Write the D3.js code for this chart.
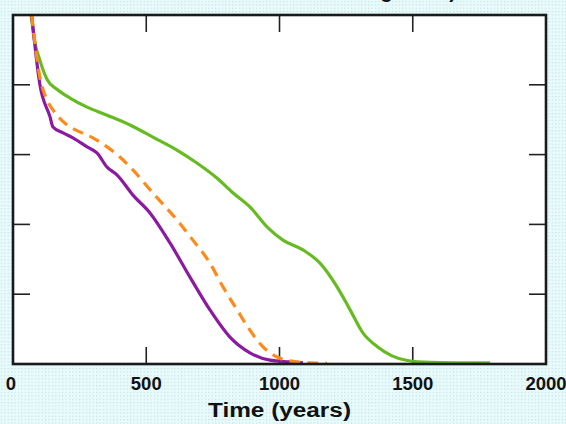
<!DOCTYPE html>
<html>
<head>
<meta charset="utf-8">
<script src="https://cdn.jsdelivr.net/npm/d3@7"></script>
<style>
  html, body { margin: 0; padding: 0; overflow: hidden; }
  svg { display: block; }
  text { font-family: "Liberation Sans", Arial, sans-serif; font-weight: bold; fill: #111; }
</style>
</head>
<body>
<svg width="566" height="424"></svg>
<script>
// Data: time (years) and fraction remaining
const purpleT = [70, 101, 139, 150, 188, 225, 278, 315, 353, 390, 450, 514, 589, 664, 739, 814, 889, 964, 1039, 1088];
const purpleV = [1.0, 0.80, 0.708, 0.679, 0.662, 0.648, 0.622, 0.605, 0.564, 0.542, 0.484, 0.433, 0.347, 0.249, 0.155, 0.077, 0.032, 0.011, 0.006, 0.003];

const orangeT = [70, 101, 128, 150, 203, 251, 300, 353, 401, 450, 525, 615, 675, 739, 788, 841, 889, 938, 991, 1066, 1114, 1178];
const orangeV = [1.0, 0.822, 0.756, 0.728, 0.685, 0.665, 0.648, 0.622, 0.593, 0.556, 0.490, 0.413, 0.355, 0.289, 0.221, 0.155, 0.097, 0.049, 0.020, 0.006, 0.003, 0.002];

const greenT = [68, 80, 101, 128, 165, 214, 278, 353, 439, 525, 615, 690, 765, 826, 889, 953, 1013, 1088, 1152, 1216, 1265, 1313, 1366, 1420, 1480, 1565, 1790];
const greenV = [1.0, 0.93, 0.870, 0.815, 0.787, 0.762, 0.736, 0.713, 0.685, 0.650, 0.613, 0.576, 0.533, 0.490, 0.450, 0.393, 0.355, 0.327, 0.289, 0.221, 0.155, 0.089, 0.050, 0.024, 0.010, 0.005, 0.003];

const xTicks = [0, 500, 1000, 1500, 2000];
const yTicks = [0.2, 0.4, 0.6, 0.8];

const svg = d3.select("svg");
const width = 566, height = 424;
const margin = { top: 15, right: 20, bottom: 60, left: 13 };
const innerWidth = width - margin.left - margin.right;
const innerHeight = height - margin.top - margin.bottom;

// dotted light cyan backdrop
const defs = svg.append("defs");
const pat = defs.append("pattern")
    .attr("id", "dots")
    .attr("width", 3.4).attr("height", 3.4)
    .attr("patternUnits", "userSpaceOnUse");
pat.append("rect").attr("width", 3.4).attr("height", 3.4).attr("fill", "#e6fcfc");
pat.append("rect").attr("x", 1).attr("y", 1).attr("width", 1).attr("height", 1).attr("fill", "#c9c9d6");
svg.append("rect").attr("width", width).attr("height", height).attr("fill", "url(#dots)");

// cut-off title at the very top (only descenders show)
svg.append("text")
    .attr("x", 456).attr("y", -2)
    .attr("text-anchor", "end")
    .attr("font-size", 20)
    .text("Normalized ice volume remaining mass)");

defs.append("clipPath").attr("id", "plotclip")
    .append("rect").attr("width", innerWidth).attr("height", innerHeight);

const g = svg.append("g")
    .attr("transform", `translate(${margin.left}, ${margin.top})`);

g.append("rect")
    .attr("width", innerWidth)
    .attr("height", innerHeight)
    .attr("fill", "#fff");

const xScale = d3.scaleLinear().domain([0, 2000]).range([0, innerWidth]);
const yScale = d3.scaleLinear().domain([0, 1]).range([innerHeight, 0]);

// inward ticks on all four sides
const tickLen = 17;
const ticks = g.append("g").attr("stroke", "#222").attr("stroke-width", 1.6);
xTicks.slice(1, -1).forEach(t => {
    ticks.append("line").attr("x1", xScale(t)).attr("x2", xScale(t)).attr("y1", innerHeight).attr("y2", innerHeight - tickLen);
    ticks.append("line").attr("x1", xScale(t)).attr("x2", xScale(t)).attr("y1", 0).attr("y2", tickLen);
});
yTicks.forEach(v => {
    ticks.append("line").attr("x1", 0).attr("x2", tickLen).attr("y1", yScale(v)).attr("y2", yScale(v));
    ticks.append("line").attr("x1", innerWidth).attr("x2", innerWidth - tickLen).attr("y1", yScale(v)).attr("y2", yScale(v));
});

const line = d3.line()
    .x(d => xScale(d[0]))
    .y(d => yScale(d[1]))
    .curve(d3.curveMonotoneX);

const series = [
    { t: greenT, v: greenV, color: "#66bb22", dash: null },
    { t: purpleT, v: purpleV, color: "#8c1aa0", dash: null },
    { t: orangeT, v: orangeV, color: "#ff8a1c", dash: "11,7" }
];

const lines = g.append("g").attr("clip-path", "url(#plotclip)");
series.forEach(s => {
    lines.append("path")
        .datum(d3.zip(s.t, s.v))
        .attr("fill", "none")
        .attr("stroke", s.color)
        .attr("stroke-width", 3.2)
        .attr("stroke-dasharray", s.dash)
        .attr("stroke-linejoin", "round")
        .attr("d", line);
});

// frame
g.append("rect")
    .attr("width", innerWidth)
    .attr("height", innerHeight)
    .attr("fill", "none")
    .attr("stroke", "#1a1a1a")
    .attr("stroke-width", 2.6);

// x tick labels
g.append("g").selectAll("text")
    .data(xTicks)
    .join("text")
    .attr("x", d => xScale(d) - (d === 0 ? 2 : 0))
    .attr("y", innerHeight + 26)
    .attr("text-anchor", "middle")
    .attr("font-size", 18.5)
    .text(d => d);

g.append("text")
    .attr("x", xScale(1000))
    .attr("y", innerHeight + 53)
    .attr("text-anchor", "middle")
    .attr("font-size", 20)
    .attr("textLength", 143)
    .attr("lengthAdjust", "spacingAndGlyphs")
    .text("Time (years)");
</script>
</body>
</html>
